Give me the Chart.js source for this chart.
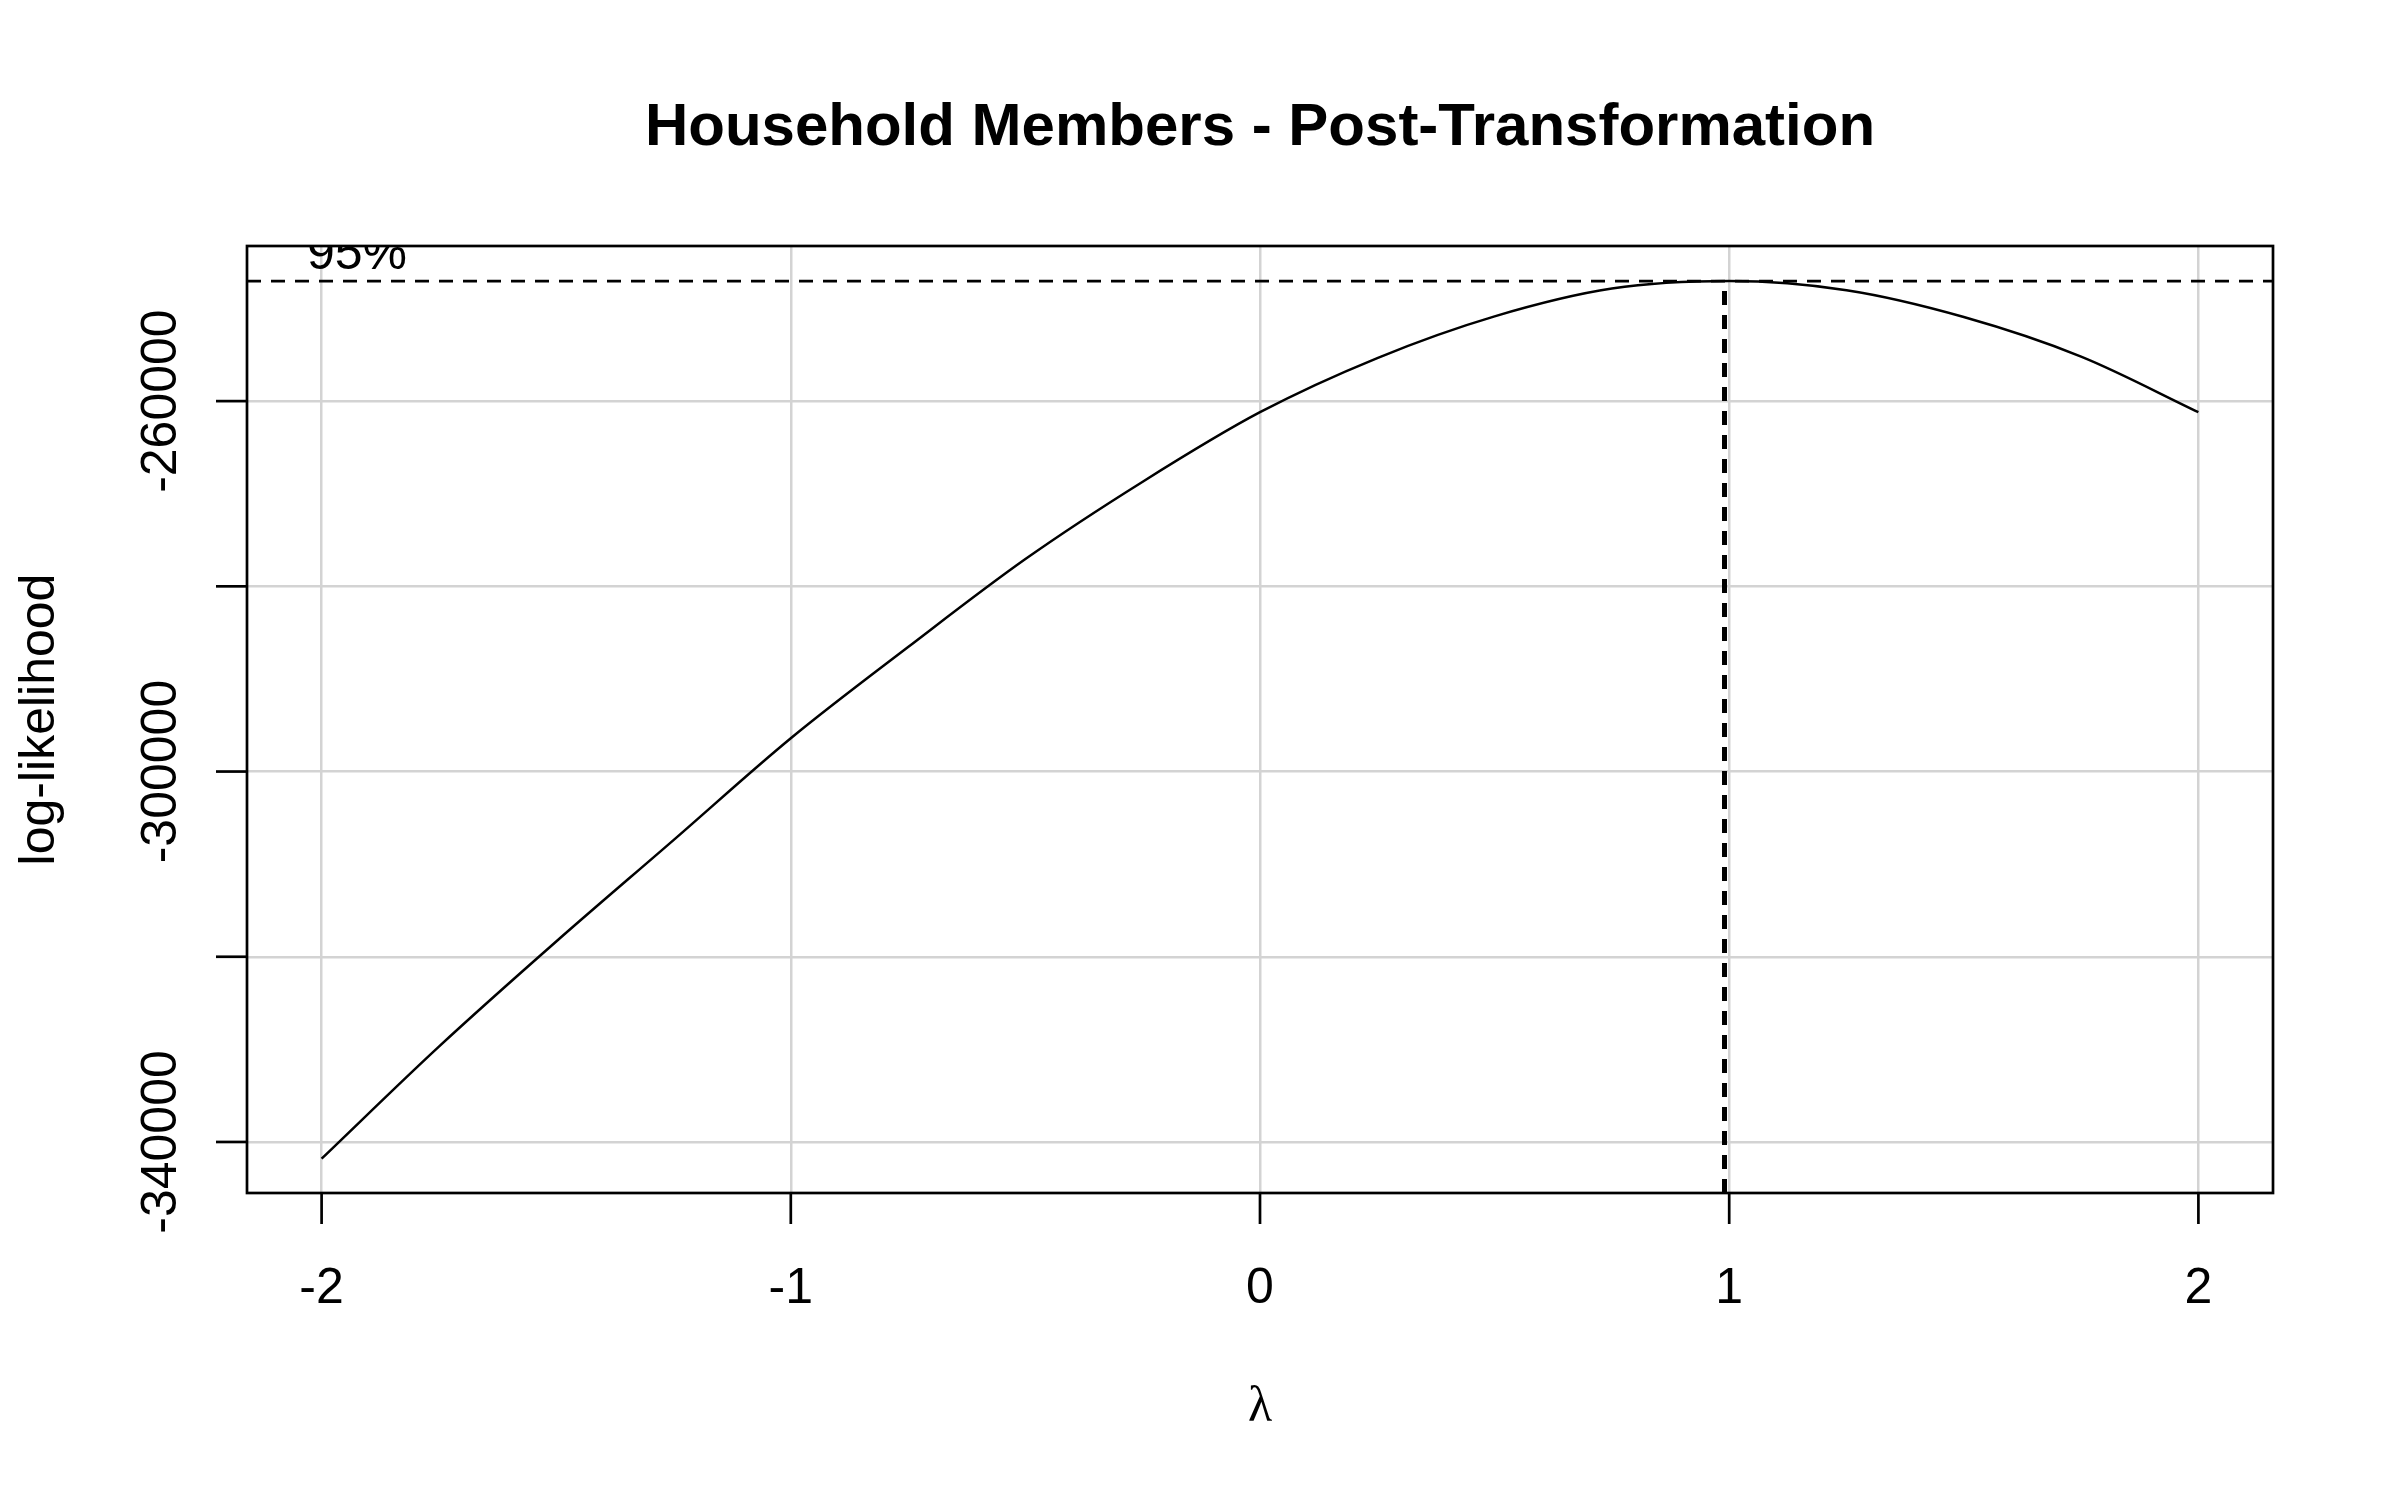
<!DOCTYPE html>
<html>
<head>
<meta charset="utf-8">
<title>Household Members - Post-Transformation</title>
<script src="https://cdn.jsdelivr.net/npm/chart.js@4.4.1/dist/chart.umd.min.js"></script>
<style>
  html, body { margin: 0; padding: 0; background: #fff; }
  canvas { display: block; }
</style>
</head>
<body>
<canvas id="boxcox" width="2400" height="1500"></canvas>
<script>
// valores (box-cox, log-likelihood vs lambda)
const lambdas = [-2, -1.75, -1.5, -1.25, -1, -0.75, -0.5, -0.25, 0, 0.25, 0.5, 0.75, 1, 1.25, 1.5, 1.75, 2];
const loglik  = [-341800, -329700, -318350, -307400, -296400, -286550, -277050, -268700, -261200,
                 -255350, -250850, -247850, -247040, -248030, -250920, -255190, -261190];

const xTicks = [-2, -1, 0, 1, 2];
const yTicks = [-340000, -320000, -300000, -280000, -260000];
const yTickLabels = ["-340000", "", "-300000", "", "-260000"];

const ciLevel   = -247040;  // linea del 95%
const lambdaMax = 0.99;     // donde esta el maximo
const xRange = [-2.159, 2.159];
const yRange = [-345510, -243250];

const FONT = '"Liberation Sans", Arial, sans-serif';

// ejes, ticks y textos al estilo R
const marcoR = {
  id: "marcoR",
  afterDraw(chart) {
    const { ctx, chartArea: a, scales } = chart;
    const xs = scales.x, ys = scales.y;
    ctx.save();
    ctx.strokeStyle = "#000";
    ctx.fillStyle = "#000";
    ctx.lineWidth = 2.7;
    ctx.strokeRect(a.left, a.top, a.right - a.left, a.bottom - a.top);

    // eje x
    ctx.font = "50px " + FONT;
    ctx.textAlign = "center";
    ctx.textBaseline = "alphabetic";
    xTicks.forEach(v => {
      const px = xs.getPixelForValue(v);
      ctx.beginPath();
      ctx.moveTo(px, a.bottom);
      ctx.lineTo(px, a.bottom + 31);
      ctx.stroke();
      ctx.fillText(String(v), px, 1303);
    });

    // eje y (etiquetas giradas)
    yTicks.forEach((v, i) => {
      const py = ys.getPixelForValue(v);
      ctx.beginPath();
      ctx.moveTo(a.left - 31, py);
      ctx.lineTo(a.left, py);
      ctx.stroke();
      if (yTickLabels[i]) {
        ctx.save();
        ctx.translate(176, py);
        ctx.rotate(-Math.PI / 2);
        ctx.fillText(yTickLabels[i], 0, 0);
        ctx.restore();
      }
    });

    // titulos
    const cx = (a.left + a.right) / 2;
    ctx.font = "bold 60px " + FONT;
    ctx.fillText("Household Members - Post-Transformation", cx, 145);

    ctx.font = '50px "Liberation Serif", "DejaVu Serif", serif';
    ctx.fillText("λ", cx, 1421);

    ctx.font = "50px " + FONT;
    ctx.save();
    ctx.translate(54, (a.top + a.bottom) / 2);
    ctx.rotate(-Math.PI / 2);
    ctx.fillText("log-likelihood", 0, 0);
    ctx.restore();

    // el 95% queda cortado por el marco
    ctx.save();
    ctx.beginPath();
    ctx.rect(a.left, a.top, a.right - a.left, a.bottom - a.top);
    ctx.clip();
    ctx.fillText("95%", 357, 269);
    ctx.restore();

    ctx.restore();
  }
};

new Chart(document.getElementById("boxcox"), {
  type: "scatter",
  data: {
    datasets: [
      {
        data: lambdas.map((l, i) => ({ x: l, y: loglik[i] })),
        showLine: true,
        borderColor: "#000",
        borderWidth: 2.5,
        pointRadius: 0,
        cubicInterpolationMode: "monotone"
      },
      {
        data: [{ x: xRange[0], y: ciLevel }, { x: xRange[1], y: ciLevel }],
        showLine: true,
        borderColor: "#000",
        borderWidth: 2.7,
        borderDash: [14, 10],
        pointRadius: 0
      },
      {
        data: [{ x: lambdaMax, y: yRange[0] }, { x: lambdaMax, y: ciLevel }],
        showLine: true,
        borderColor: "#000",
        borderWidth: 5,
        borderDash: [14, 10],
        pointRadius: 0
      }
    ]
  },
  options: {
    responsive: false,
    devicePixelRatio: 1,
    animation: false,
    layout: { padding: { top: 246, right: 127, left: 0, bottom: 0 } },
    plugins: { legend: { display: false }, tooltip: { enabled: false } },
    scales: {
      x: {
        type: "linear",
        min: xRange[0],
        max: xRange[1],
        afterBuildTicks: s => { s.ticks = xTicks.map(v => ({ value: v })); },
        afterFit: s => { s.height = 307; },
        ticks: { display: false },
        grid: { color: "#d3d3d3", lineWidth: 2.5, drawTicks: false },
        border: { display: false }
      },
      y: {
        type: "linear",
        min: yRange[0],
        max: yRange[1],
        afterBuildTicks: s => { s.ticks = yTicks.map(v => ({ value: v })); },
        afterFit: s => { s.width = 247; },
        ticks: { display: false },
        grid: { color: "#d3d3d3", lineWidth: 2.5, drawTicks: false },
        border: { display: false }
      }
    }
  },
  plugins: [marcoR]
});
</script>
</body>
</html>
